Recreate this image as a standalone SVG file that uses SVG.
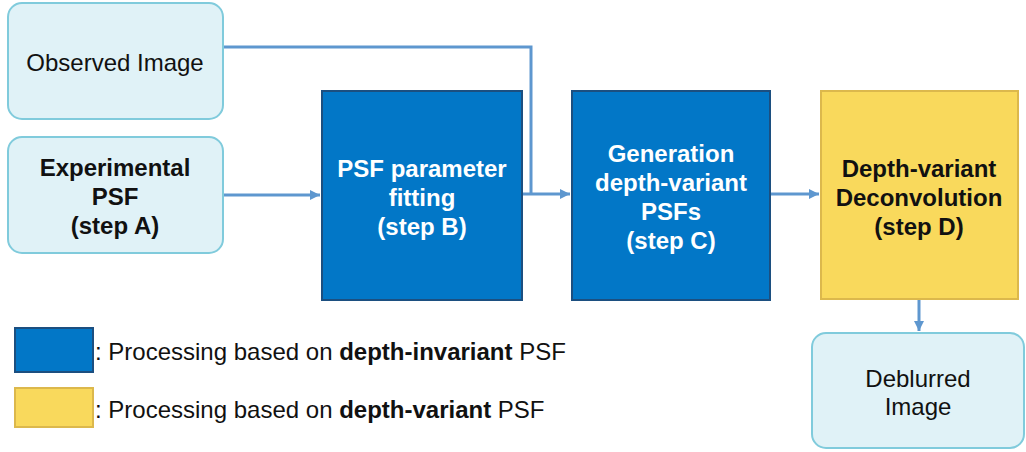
<svg xmlns="http://www.w3.org/2000/svg" width="1026" height="452" viewBox="0 0 1026 452">
<defs>
<marker id="ah" viewBox="0 0 10 10" refX="10" refY="5" markerWidth="10" markerHeight="10" markerUnits="userSpaceOnUse" orient="auto">
<path d="M0,0 L10,5 L0,10 Z" fill="#5e97cf"/>
</marker>
<style>
.light{fill:#e0f2f7;stroke:#80cbdc;stroke-width:2}
.blue{fill:#0277c7;stroke:#1c4f80;stroke-width:2}
.yellow{fill:#f9d95c;stroke:#dcb84c;stroke-width:2}
text{font-family:"Liberation Sans",Arial,sans-serif;font-size:24px;text-anchor:middle}
.b{font-weight:bold}
.w{fill:#ffffff}
.k{fill:#111111}
.conn{fill:none;stroke:#5e97cf;stroke-width:3}
.leg{text-anchor:start}
</style>
</defs>
<g id="connectors">
<path class="conn" d="M223,47 H531 V194"/>
<path class="conn" d="M223,195 H320" marker-end="url(#ah)"/>
<path class="conn" d="M522,194 H570" marker-end="url(#ah)"/>
<path class="conn" d="M770,194 H819" marker-end="url(#ah)"/>
<path class="conn" d="M919,299 V331" marker-end="url(#ah)"/>
</g>
<g id="observed">
<rect class="light" x="8" y="3" width="215" height="116" rx="14"/>
<text class="k" x="115" y="71">Observed Image</text>
</g>
<g id="experimental">
<rect class="light" x="8" y="137" width="215" height="116" rx="14"/>
<text class="k b" x="115" y="176">Experimental</text>
<text class="k b" x="115" y="205">PSF</text>
<text class="k b" x="115" y="234">(step A)</text>
</g>
<g id="stepB">
<rect class="blue" x="322" y="91" width="200" height="209"/>
<text class="w b" x="422" y="177">PSF parameter</text>
<text class="w b" x="422" y="206">fitting</text>
<text class="w b" x="422" y="235">(step B)</text>
</g>
<g id="stepC">
<rect class="blue" x="572" y="91" width="198" height="209"/>
<text class="w b" x="671" y="162">Generation</text>
<text class="w b" x="671" y="191">depth-variant</text>
<text class="w b" x="671" y="220">PSFs</text>
<text class="w b" x="671" y="249">(step C)</text>
</g>
<g id="stepD">
<rect class="yellow" x="821" y="91" width="197" height="208"/>
<text class="k b" x="919" y="177">Depth-variant</text>
<text class="k b" x="919" y="206">Deconvolution</text>
<text class="k b" x="919" y="235">(step D)</text>
</g>
<g id="deblurred">
<rect class="light" x="812" y="333" width="212" height="115" rx="14"/>
<text class="k" x="918" y="387">Deblurred</text>
<text class="k" x="918" y="415">Image</text>
</g>
<g id="legend">
<rect class="blue" x="15" y="328" width="78" height="44"/>
<rect class="yellow" x="15" y="388" width="78" height="39"/>
<text class="k leg" x="95" y="360">: Processing based on <tspan class="b">depth-invariant</tspan> PSF</text>
<text class="k leg" x="95" y="418">: Processing based on <tspan class="b">depth-variant</tspan> PSF</text>
</g>
</svg>
